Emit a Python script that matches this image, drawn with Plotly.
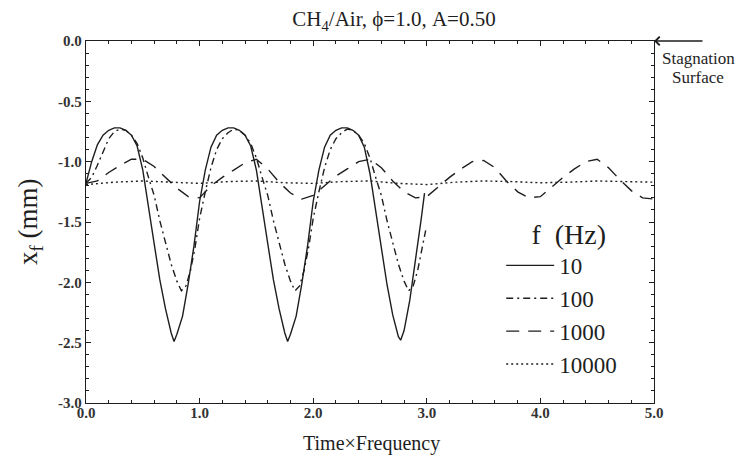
import plotly.graph_objects as go

# ---- data ----
labels = ["10", "100", "1000", "10000"]

t_10 = [0.00, 0.05, 0.10, 0.15, 0.20, 0.25, 0.30, 0.35, 0.40, 0.45, 0.50, 0.55, 0.60, 0.65, 0.70, 0.75, 0.775, 0.80, 0.85, 0.90, 0.95,
        1.00, 1.05, 1.10, 1.15, 1.20, 1.25, 1.30, 1.35, 1.40, 1.45, 1.50, 1.55, 1.60, 1.65, 1.70, 1.75, 1.775, 1.80, 1.85, 1.90, 1.95,
        2.00, 2.05, 2.10, 2.15, 2.20, 2.25, 2.30, 2.35, 2.40, 2.45, 2.50, 2.55, 2.60, 2.65, 2.70, 2.75, 2.77, 2.80, 2.85, 2.90, 2.95, 2.98]
x_10 = [-1.18, -1.00, -0.86, -0.78, -0.74, -0.72, -0.72, -0.74, -0.78, -0.87, -1.07, -1.36, -1.68, -1.98, -2.22, -2.42, -2.49, -2.43, -2.28, -2.01, -1.70,
        -1.33, -1.07, -0.88, -0.78, -0.74, -0.72, -0.72, -0.74, -0.78, -0.87, -1.07, -1.36, -1.68, -1.98, -2.22, -2.42, -2.49, -2.43, -2.28, -2.01, -1.70,
        -1.33, -1.07, -0.88, -0.78, -0.74, -0.72, -0.72, -0.74, -0.78, -0.88, -1.10, -1.40, -1.72, -2.02, -2.27, -2.45, -2.48, -2.40, -2.15, -1.83, -1.48, -1.26]

t_100 = [0.00, 0.05, 0.10, 0.15, 0.20, 0.25, 0.30, 0.35, 0.40, 0.45, 0.50, 0.55, 0.60, 0.65, 0.70, 0.75, 0.80, 0.84, 0.88, 0.92, 0.96,
         1.00, 1.05, 1.10, 1.15, 1.20, 1.25, 1.30, 1.35, 1.40, 1.45, 1.50, 1.55, 1.60, 1.65, 1.70, 1.75, 1.80, 1.84, 1.88, 1.92, 1.96,
         2.00, 2.05, 2.10, 2.15, 2.20, 2.25, 2.30, 2.35, 2.40, 2.45, 2.50, 2.55, 2.60, 2.65, 2.70, 2.75, 2.80, 2.84, 2.88, 2.92, 2.96, 2.99]
x_100 = [-1.18, -1.13, -1.03, -0.92, -0.81, -0.75, -0.73, -0.74, -0.78, -0.85, -0.97, -1.13, -1.28, -1.49, -1.68, -1.85, -1.99, -2.07, -2.03, -1.90, -1.71,
         -1.47, -1.25, -1.05, -0.90, -0.81, -0.76, -0.73, -0.74, -0.78, -0.85, -0.97, -1.13, -1.28, -1.49, -1.68, -1.85, -1.99, -2.07, -2.03, -1.90, -1.71,
         -1.47, -1.25, -1.05, -0.90, -0.81, -0.76, -0.73, -0.74, -0.78, -0.85, -0.97, -1.13, -1.28, -1.49, -1.68, -1.85, -1.99, -2.07, -2.03, -1.90, -1.71, -1.57]

t_1000 = [0.0, 0.1, 0.2, 0.3, 0.4, 0.5, 0.6, 0.7, 0.8, 0.9, 1.0, 1.1, 1.2, 1.3, 1.4, 1.5, 1.6, 1.7, 1.8, 1.9, 2.0,
          2.1, 2.2, 2.3, 2.4, 2.5, 2.6, 2.7, 2.8, 2.9, 3.0, 3.1, 3.2, 3.3, 3.4, 3.5, 3.6, 3.7, 3.8, 3.9, 4.0,
          4.1, 4.2, 4.3, 4.4, 4.5, 4.6, 4.7, 4.8, 4.9, 5.0]
x_1000 = [-1.18, -1.16, -1.09, -1.03, -0.98, -0.98, -1.04, -1.13, -1.22, -1.29, -1.30, -1.20, -1.13, -1.07, -1.01, -0.98, -1.06, -1.17, -1.26, -1.31, -1.28,
          -1.20, -1.12, -1.06, -1.00, -0.98, -1.05, -1.16, -1.25, -1.30, -1.29, -1.21, -1.13, -1.06, -1.00, -0.99, -1.05, -1.16, -1.25, -1.30, -1.29,
          -1.21, -1.13, -1.06, -1.00, -0.98, -1.05, -1.15, -1.24, -1.30, -1.31]

t_10000 = [0.0, 0.25, 0.5, 0.75, 1.0, 1.25, 1.5, 1.75, 2.0, 2.25, 2.5, 2.75, 3.0, 3.25, 3.5, 3.75, 4.0, 4.25, 4.5, 4.75, 5.0]
x_10000 = [-1.19, -1.17, -1.16, -1.17, -1.18, -1.165, -1.16, -1.175, -1.18, -1.165, -1.16, -1.18, -1.19, -1.17, -1.16, -1.165, -1.175, -1.17, -1.16, -1.165, -1.17]

x_tickvals = [0, 1, 2, 3, 4, 5]
x_ticktext = ["0.0", "1.0", "2.0", "3.0", "4.0", "5.0"]
y_tickvals = [0, -0.5, -1.0, -1.5, -2.0, -2.5, -3.0]
y_ticktext = ["0.0", "-0.5", "-1.0", "-1.5", "-2.0", "-2.5", "-3.0"]

INK = "#1e1e1e"
SERIF = "Liberation Serif"

fig = go.Figure()
series = [
    (t_10, x_10, "solid"),
    (t_100, x_100, "7px,4px,2px,4px"),
    (t_1000, x_1000, "13px,9px"),
    (t_10000, x_10000, "2px,3px"),
]
for (tx, yx, dash), name in zip(series, labels):
    fig.add_trace(go.Scatter(x=tx, y=yx, mode="lines", name=name,
                             line=dict(color=INK, width=1.4, dash=dash)))

axis_common = dict(showline=True, linecolor=INK, linewidth=1.3, mirror="ticks",
                   ticks="inside", ticklen=5, tickcolor=INK, tickwidth=1,
                   showgrid=False, zeroline=False,
                   tickfont=dict(family=SERIF, size=15, color="#333", weight="bold"))

fig.update_xaxes(range=[0, 5], tickvals=x_tickvals, ticktext=x_ticktext, ticklabelstandoff=-4,
                 minor=dict(ticks="inside", dtick=0.2, ticklen=3, tickcolor=INK, showgrid=False),
                 **axis_common)
fig.update_yaxes(range=[-3, 0], tickvals=y_tickvals, ticktext=y_ticktext,
                 minor=dict(ticks="inside", dtick=0.1, ticklen=3, tickcolor=INK, showgrid=False),
                 **axis_common)

fig.update_layout(
    width=743, height=468,
    margin=dict(l=78, r=97, t=33, b=73),
    paper_bgcolor="white", plot_bgcolor="white",
    title=dict(text="CH<sub>4</sub>/Air, ϕ=1.0, A=0.50", x=386 / 743, xref="container", xanchor="center",
               y=1 - 11 / 468, yref="container", yanchor="middle",
               font=dict(family=SERIF, size=21, color=INK)),
    legend=dict(x=0.731, y=0.54, xanchor="left", yanchor="top",
                bgcolor="rgba(0,0,0,0)", font=dict(family=SERIF, size=23, color=INK),
                title=dict(text="\u2002f\u2002(Hz)", side="top center", font=dict(family=SERIF, size=28, color=INK)),
                itemwidth=48, tracegroupgap=0),
    showlegend=True,
)

# axis titles
fig.add_annotation(x=0.502, y=0, xref="paper", yref="paper", xanchor="center", yanchor="middle",
                   yshift=-40, text="Time×Frequency", showarrow=False,
                   font=dict(family=SERIF, size=20, color=INK))
fig.add_annotation(x=0, y=0.5, xref="paper", yref="paper", xanchor="center", yanchor="middle",
                   xshift=-56, textangle=-90, text="x<sub>f</sub> (mm)", showarrow=False,
                   font=dict(family=SERIF, size=27, color=INK))

# stagnation surface marker
fig.add_annotation(x=5, y=0, xref="x", yref="y", text="", showarrow=True,
                   ax=50, ay=0, arrowhead=4, arrowsize=1.3, arrowwidth=1.3, arrowcolor=INK)
fig.add_annotation(x=1.0, y=1.0, xref="paper", yref="paper", xanchor="center", yanchor="middle",
                   xshift=44, yshift=-17, text="Stagnation", showarrow=False,
                   font=dict(family=SERIF, size=17, color=INK))
fig.add_annotation(x=1.0, y=1.0, xref="paper", yref="paper", xanchor="center", yanchor="middle",
                   xshift=44, yshift=-36, text="Surface", showarrow=False,
                   font=dict(family=SERIF, size=17, color=INK))

fig.write_html("out.html")
